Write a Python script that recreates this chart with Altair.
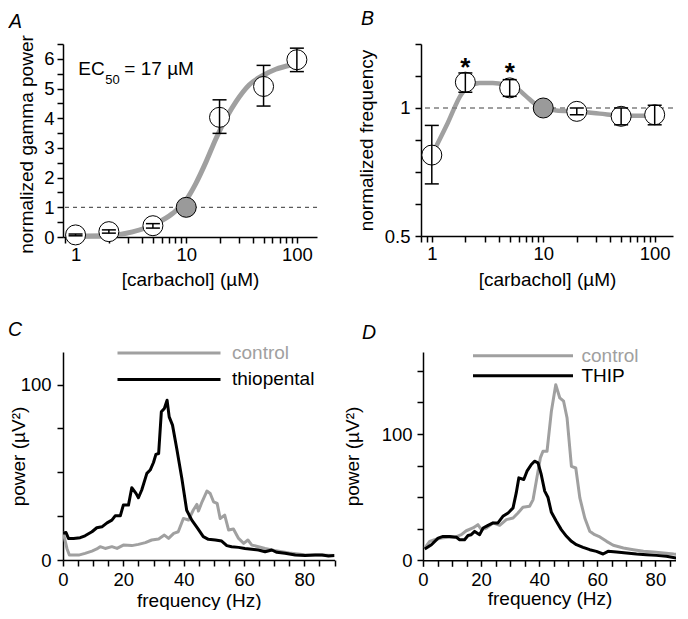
import altair as alt
import pandas as pd

FONT = "Liberation Sans"
GRAY = "#a0a0a0"

# ---------------- data ----------------
conc = [1, 2, 5, 10, 20, 50, 100]
is_ref = [False, False, False, True, False, False, False]

# Panel A: normalized gamma power
a_power = [0.07, 0.18, 0.38, 1.00, 4.03, 5.07, 5.97]
a_err_lo = [0.04, 0.13, 0.30, None, 3.49, 4.41, 5.57]
a_err_hi = [0.10, 0.24, 0.45, None, 4.62, 5.78, 6.36]
a_fit_conc = [1.0, 2.02, 3.27, 5.32, 7.52, 9.95, 12.2, 15.1, 18.6, 22.9, 28.2, 37.0, 48.8, 64.4, 91.0, 100]
a_fit_power = [0.03, 0.05, 0.17, 0.45, 0.79, 1.24, 1.80, 2.53, 3.32, 4.00, 4.56, 5.12, 5.43, 5.65, 5.80, 5.83]
a_ref_level = [1.0]
a_note_conc = [1.06]
a_note_power = [5.47]
a_yticks = [0, 0.5, 1, 1.5, 2, 2.5, 3, 3.5, 4, 4.5, 5, 5.5, 6, 6.5]

# Panel B: normalized frequency
b_freq = [0.775, 1.150, 1.115, 1.000, 0.982, 0.956, 0.964]
b_err_lo = [0.663, 1.089, 1.065, None, 0.964, 0.913, 0.913]
b_err_hi = [0.910, 1.209, 1.166, None, 1.000, 1.000, 1.015]
b_fit_conc = [1.0, 1.39, 1.83, 2.11, 2.68, 3.53, 4.65, 5.72, 7.04, 8.65, 10.0, 13.1, 19.8, 32.1, 52.0, 100]
b_fit_freq = [0.775, 0.922, 1.075, 1.121, 1.145, 1.145, 1.133, 1.115, 1.065, 1.018, 1.000, 0.987, 0.982, 0.970, 0.959, 0.959]
b_star_conc = [2, 5]
b_star_freq = [1.288, 1.254]
b_ref_level = [1.0]
b_yticks = [0.5, 0.5946, 0.7071, 0.8409, 1.0, 1.1892, 1.4142]

# Panel C: power spectra, control vs thiopental
c_thio_f = [0.0, 1.0, 1.8, 3.5, 5.7, 7.3, 9.6, 11.2, 12.9, 14.6, 16.2, 17.3, 19.0, 20.0, 21.7, 22.8, 24.2, 25.0, 26.1, 27.8,
            28.9, 30.0, 30.8, 31.7, 32.6, 33.6, 34.5, 35.2, 36.3, 37.7, 39.4, 41.0, 42.7, 44.7, 46.5, 48.2, 50.5, 52.6, 54.3, 55.9,
            58.2, 60.3, 62.6, 64.8, 67.0, 69.2, 70.9, 73.6, 77.0, 80.3, 83.6, 85.9, 88.0, 90.0]
c_thio_p = [15.2, 15.7, 12.3, 12.3, 12.7, 13.8, 16.1, 18.4, 18.9, 21.2, 22.7, 25.2, 25.2, 31.3, 31.3, 41.2, 38.0, 35.5, 39.9, 49.4,
            51.3, 55.6, 60.2, 60.7, 84.5, 86.4, 91.1, 81.6, 76.9, 63.6, 46.5, 28.4, 22.7, 17.9, 13.3, 11.8, 11.4, 10.8, 8.2, 7.6,
            7.2, 6.6, 6.1, 5.7, 4.7, 5.7, 4.4, 3.8, 2.8, 2.5, 2.8, 2.8, 2.3, 2.5]
c_ctrl_f = [0.0, 1.3, 2.1, 5.2, 7.3, 9.6, 11.2, 12.3, 14.0, 16.2, 17.9, 20.0, 22.8, 25.0, 27.3, 29.4, 31.7, 33.6, 35.0, 36.7,
            38.2, 39.9, 41.6, 43.2, 44.4, 44.9, 46.1, 47.7, 48.8, 49.9, 51.1, 52.1, 53.6, 54.9, 56.5, 58.2, 59.9, 61.3, 62.6, 64.8,
            67.0, 70.0, 75.0, 80.0, 85.0, 90.0]
c_ctrl_p = [16.1, 6.6, 2.8, 2.8, 3.8, 5.1, 6.3, 7.6, 6.6, 7.6, 6.6, 8.5, 8.2, 8.9, 9.9, 11.4, 12.0, 14.2, 12.3, 15.2,
            16.1, 23.7, 22.8, 28.5, 31.7, 27.9, 33.2, 39.3, 37.9, 33.2, 32.3, 23.7, 25.6, 17.1, 17.7, 12.3, 9.5, 11.4, 8.5, 7.6,
            6.6, 5.5, 4.0, 3.0, 2.8, 2.5]

# Panel D: power spectra, control vs THIP
d_thip_f = [0.6, 2.9, 5.2, 6.9, 9.2, 11.5, 12.6, 14.3, 15.5, 16.6, 17.8, 19.5, 20.7, 22.4, 24.1, 25.8, 27.5, 29.3, 31.0, 32.1,
            33.0, 34.7, 35.8, 37.3, 38.4, 39.6, 40.7, 41.9, 43.0, 44.2, 45.9, 47.6, 49.4, 51.1, 52.8, 55.1, 57.4, 59.7, 62.0, 63.7,
            66.6, 70.0, 73.5, 76.9, 80.3, 83.8, 87.2, 89.5]
d_thip_p = [8.9, 12.3, 17.6, 18.9, 18.9, 18.2, 16.3, 16.3, 19.7, 20.3, 22.9, 20.3, 25.6, 27.7, 29.6, 29.6, 34.8, 37.5, 41.5, 53.4,
            65.3, 64.0, 70.6, 75.9, 78.5, 77.2, 68.0, 54.8, 50.0, 38.0, 30.9, 24.3, 19.0, 15.0, 12.4, 10.3, 8.4, 7.1, 5.0, 7.1,
            6.6, 5.8, 5.0, 4.4, 3.9, 3.2, 1.8, 0.8]
d_ctrl_f = [0.6, 2.3, 4.0, 6.3, 8.6, 10.9, 13.2, 14.9, 17.2, 18.9, 20.1, 21.8, 24.1, 26.4, 28.7, 31.0, 32.7, 34.4, 36.7, 37.9,
            39.0, 40.4, 41.3, 42.7, 44.2, 45.7, 47.1, 48.4, 49.6, 51.1, 52.6, 54.0, 55.7, 57.4, 59.1, 60.9, 63.2, 65.5, 69.0, 72.4,
            75.9, 79.3, 82.8, 86.3, 89.7]
d_ctrl_p = [9.6, 15.0, 16.3, 17.6, 18.2, 18.2, 20.3, 23.4, 25.6, 28.2, 24.3, 25.6, 29.6, 27.7, 32.2, 33.5, 37.5, 42.0, 42.8, 48.1,
            62.6, 81.1, 86.4, 86.4, 118.1, 139.1, 128.6, 126.0, 112.7, 74.4, 73.1, 49.4, 33.5, 23.0, 20.3, 18.5, 15.0, 11.9, 9.8, 8.4,
            7.1, 6.6, 5.8, 5.0, 4.4]

log_ticks = [0.8, 0.9, 1, 2, 3, 4, 5, 6, 7, 8, 9, 10, 20, 30, 40, 50, 60, 70, 80, 90, 100]
c_freq_ticks = [0, 5, 10, 15, 20, 25, 30, 35, 40, 45, 50, 55, 60, 65, 70, 75, 80, 85, 90]
d_freq_ticks = [0, 5, 10, 15, 20, 25, 30, 35, 40, 45, 50, 55, 60, 65, 70, 75, 80, 85]

log_label = "datum.value == 1 || datum.value == 10 || datum.value == 100 ? format(datum.value, 'd') : ''"


def panel_title(letter, dx, offset):
    return alt.TitleParams(text=letter, anchor="start", frame="group", font=FONT, fontSize=19.5,
                           fontStyle="italic", fontWeight="normal", color="black", dx=dx, offset=offset)


def err_layers(df, x, ylo, yhi):
    base = alt.Chart(df).transform_filter("isValid(datum.lo)")
    bar = base.mark_rule(color="black", strokeWidth=1.5).encode(x=x, y=ylo, y2="hi:Q")
    c1 = base.mark_tick(orient="horizontal", size=14, thickness=1.5, color="black", opacity=1).encode(x=x, y=ylo)
    c2 = base.mark_tick(orient="horizontal", size=14, thickness=1.5, color="black", opacity=1).encode(x=x, y=yhi)
    return [bar, c1, c2]


# ---------------- panel A ----------------
dfA = pd.DataFrame({"conc": conc, "val": a_power, "lo": a_err_lo, "hi": a_err_hi, "ref": is_ref})
fitA = pd.DataFrame({"conc": a_fit_conc, "val": a_fit_power})
axA_x = alt.Axis(values=log_ticks, labelExpr=log_label, title="[carbachol] (µM)", labelPadding=2, titleY=48.5)
axA_y = alt.Axis(values=a_yticks, labelExpr="datum.value % 1 == 0 ? format(datum.value, 'd') : ''",
                 title="normalized gamma power", labelPadding=3, titleX=-30.5, titleY=100)
scA_x = alt.Scale(type="log", domain=[0.77, 152], nice=False)
scA_y = alt.Scale(domain=[0, 6.5], nice=False, zero=False)
xA = alt.X("conc:Q", scale=scA_x, axis=axA_x)
yA = alt.Y("val:Q", scale=scA_y, axis=axA_y)
yA_lo = alt.Y("lo:Q", scale=scA_y, axis=axA_y)
yA_hi = alt.Y("hi:Q", scale=scA_y, axis=axA_y)

lineA = alt.Chart(fitA).mark_line(color=GRAY, strokeWidth=5, interpolate="monotone").encode(x=xA, y=yA)
refA = alt.Chart(pd.DataFrame({"val": a_ref_level})).mark_rule(
    color="#333", strokeWidth=1, strokeDash=[4, 4]).encode(y=yA)
ptsA = alt.Chart(dfA).mark_point(shape="circle", filled=True, size=400, stroke="black", strokeWidth=1,
                                 opacity=1).encode(
    x=xA, y=yA, fill=alt.condition("datum.ref", alt.value("#9a9a9a"), alt.value("white")))
noteA_df = pd.DataFrame({"conc": a_note_conc, "val": a_note_power})
noteA1 = alt.Chart(noteA_df).mark_text(text="EC", align="left", baseline="alphabetic", font=FONT,
                                        fontSize=19, color="black").encode(x=xA, y=yA)
noteA2 = alt.Chart(noteA_df).mark_text(text="50", align="left", baseline="alphabetic", font=FONT,
                                        fontSize=13, color="black", dx=27, dy=9).encode(x=xA, y=yA)
noteA3 = alt.Chart(noteA_df).mark_text(text="= 17 µM", align="left", baseline="alphabetic", font=FONT,
                                        fontSize=19, color="black", dx=46).encode(x=xA, y=yA)

chartA = alt.layer(lineA, refA, ptsA, *err_layers(dfA, xA, yA_lo, yA_hi), noteA1, noteA2, noteA3).properties(
    width=254, height=193, title=panel_title("A", -54, 2))

# ---------------- panel B ----------------
dfB = pd.DataFrame({"conc": conc, "val": b_freq, "lo": b_err_lo, "hi": b_err_hi, "ref": is_ref})
fitB = pd.DataFrame({"conc": b_fit_conc, "val": b_fit_freq})
starB = pd.DataFrame({"conc": b_star_conc, "val": b_star_freq})
axB_x = alt.Axis(values=log_ticks, labelExpr=log_label, title="[carbachol] (µM)", labelPadding=2, titleY=49.7)
axB_y = alt.Axis(values=b_yticks, labelExpr="datum.value == 0.5 ? '0.5' : (datum.value == 1 ? '1' : '')",
                 title="normalized frequency", labelPadding=5, titleX=-48.4, titleY=96)
scB_x = alt.Scale(type="log", domain=[0.8, 146], nice=False)
scB_y = alt.Scale(type="log", base=2, domain=[0.5, 1.4142], nice=False)
xB = alt.X("conc:Q", scale=scB_x, axis=axB_x)
yB = alt.Y("val:Q", scale=scB_y, axis=axB_y)
yB_lo = alt.Y("lo:Q", scale=scB_y, axis=axB_y)
yB_hi = alt.Y("hi:Q", scale=scB_y, axis=axB_y)

lineB = alt.Chart(fitB).mark_line(color=GRAY, strokeWidth=4.5, interpolate="monotone").encode(x=xB, y=yB)
refB = alt.Chart(pd.DataFrame({"val": b_ref_level})).mark_rule(
    color="#808080", strokeWidth=1.5, strokeDash=[5, 4]).encode(y=yB)
ptsB = alt.Chart(dfB).mark_point(shape="circle", filled=True, size=400, stroke="black", strokeWidth=1,
                                 opacity=1).encode(
    x=xB, y=yB, fill=alt.condition("datum.ref", alt.value("#9a9a9a"), alt.value("white")))
starsB = alt.Chart(starB).mark_text(text="*", font=FONT, fontSize=26, fontWeight="bold", color="black",
                                    baseline="alphabetic", align="center", dy=15).encode(x=xB, y=yB)

chartB = alt.layer(lineB, refB, ptsB, *err_layers(dfB, xB, yB_lo, yB_hi), starsB).properties(
    width=252, height=192, title=panel_title("B", -60, 6))


# ---------------- panels C, D ----------------
def spectrum(ctrl_f, ctrl_p, drug_f, drug_p, drug_name, xmax, xticks, ymax, yticks, width, height, legend_kw,
             xkw, ykw, letter, dx, offset):
    ctrl = pd.DataFrame({"f": ctrl_f, "p": ctrl_p, "series": "control"})
    drug = pd.DataFrame({"f": drug_f, "p": drug_p, "series": drug_name})
    legend = alt.Legend(title=None, orient="none", symbolSize=100, symbolStrokeWidth=3,
                        labelFont=FONT, labelFontSize=19, labelOffset=10, padding=0,
                        labelColor={"expr": "datum.label == 'control' ? '%s' : 'black'" % GRAY},
                        **legend_kw)
    color = alt.Color("series:N", scale=alt.Scale(domain=["control", drug_name], range=[GRAY, "black"]),
                      legend=legend)
    x = alt.X("f:Q", scale=alt.Scale(domain=[0, xmax], nice=False),
              axis=alt.Axis(values=xticks, labelExpr="datum.value % 20 == 0 ? datum.label : ''",
                            title="frequency (Hz)", **xkw))
    y = alt.Y("p:Q", scale=alt.Scale(domain=[0, ymax], nice=False),
              axis=alt.Axis(values=yticks, labelExpr="datum.value % 100 == 0 ? datum.label : ''",
                            title="power (µV²)", **ykw))
    l1 = alt.Chart(ctrl).mark_line(strokeWidth=3, strokeJoin="round", clip=True).encode(x=x, y=y, color=color)
    l2 = alt.Chart(drug).mark_line(strokeWidth=3, strokeJoin="round", clip=True).encode(x=x, y=y, color=color)
    return alt.layer(l1, l2).properties(width=width, height=height, title=panel_title(letter, dx, offset))


chartC = spectrum(c_ctrl_f, c_ctrl_p, c_thio_f, c_thio_p, "thiopental", 90, c_freq_ticks,
                  118.6, [0, 25, 50, 75, 100], 271.5, 208,
                  dict(symbolType="M-19.0,0H1.6", legendX=140, legendY=-8.5, rowPadding=6.4),
                  dict(labelPadding=4, titleY=46), dict(labelPadding=6, titleX=-39, titleY=104),
                  "C", -55, 2.8)
chartD = spectrum(d_ctrl_f, d_ctrl_p, d_thip_f, d_thip_p, "THIP", 87.1, d_freq_ticks,
                  165, [0, 25, 50, 75, 100, 125, 150], 253, 208.3,
                  dict(symbolType="M-17.8,0H2.2", legendX=129.5, legendY=-5.7, rowPadding=-1),
                  dict(labelPadding=4, titleY=44.5), dict(labelPadding=5, titleX=-64.7, titleY=104),
                  "D", -61, 2.6)

top = alt.hconcat(chartA, chartB, spacing=39)
bottom = alt.hconcat(chartC, chartD, spacing=7).resolve_scale(color="independent").resolve_legend(
    color="independent")
chart = alt.vconcat(top, bottom, spacing=30).properties(padding=0).configure(font=FONT).configure_view(
    stroke=None).configure_axis(
    grid=False, domain=True, ticks=True, domainColor="black", domainWidth=1.5, tickColor="black",
    tickWidth=1.5, tickSize=6, labelFont=FONT, labelFontSize=18.5, labelColor="black", titleFont=FONT,
    titleFontSize=19, titleFontWeight="normal", titleColor="black", labelFlush=False, labelOverlap=False,
    titleBaseline="alphabetic", zindex=1)

chart.save("out.html", embed_options={"renderer": "svg", "actions": False})
